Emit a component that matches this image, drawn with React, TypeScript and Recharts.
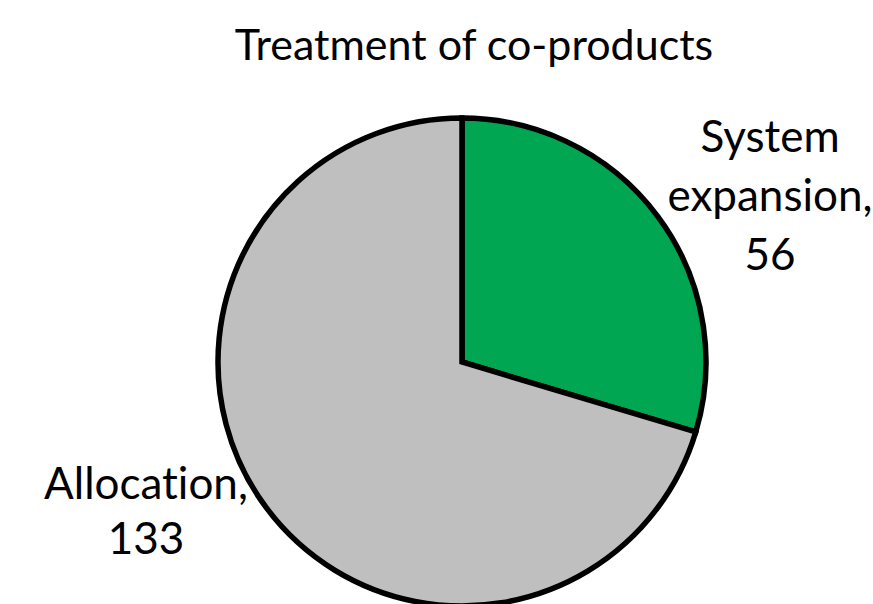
import React from 'react'
import { PieChart, Pie, Cell } from 'recharts'

const categories = ['System expansion', 'Allocation']
const values = [56, 133]
const colors = ['#00A651', '#BFBFBF']

const data = categories.map((name, i) => ({ name, value: values[i] }))

const FONT = 'Lato, "Open Sans", sans-serif'

// label anchor offsets relative to pie centre, one per slice
const labelOffsets = [
  { dx: 308, dy: -210, lh: 59 },
  { dx: -316, dy: 137, lh: 55 },
]

const renderLabel = (props: any) => {
  const { cx, cy, index, name, value } = props
  const off = labelOffsets[index]
  const words = name.split(' ')
  const lines = index === 0 ? [words[0], words.slice(1).join(' ') + ','] : [name + ',']
  lines.push(String(value))
  return (
    <text
      x={cx + off.dx}
      y={cy + off.dy}
      textAnchor="middle"
      fill="#000"
      fontFamily={FONT}
      fontSize={44}
      style={{ fontVariantLigatures: 'none' }}
    >
      {lines.map((l, i) => (
        <tspan key={i} x={cx + off.dx} dy={i === 0 ? 0 : off.lh}>{l}</tspan>
      ))}
    </text>
  )
}

const App = () => {
  return (
    <div style={{ position: 'absolute', left: 0, top: 0, width: 873, height: 604, background: '#fff' }}>
      <PieChart width={873} height={604}>
        <text
          x={474}
          y={60}
          textAnchor="middle"
          fontFamily={FONT}
          fontSize={43}
          fill="#000"
          style={{ fontVariantLigatures: 'none' }}
        >
          Treatment of co-products
        </text>
        <Pie
          data={data}
          dataKey="value"
          nameKey="name"
          cx={457}
          cy={357}
          outerRadius={244}
          startAngle={90}
          endAngle={-270}
          stroke="#000"
          strokeWidth={5.5}
          label={renderLabel}
          labelLine={false}
          isAnimationActive={false}
        >
          {data.map((entry, index) => (
            <Cell key={`cell-${index}`} fill={colors[index]} />
          ))}
        </Pie>
      </PieChart>
    </div>
  )
}

export default App
